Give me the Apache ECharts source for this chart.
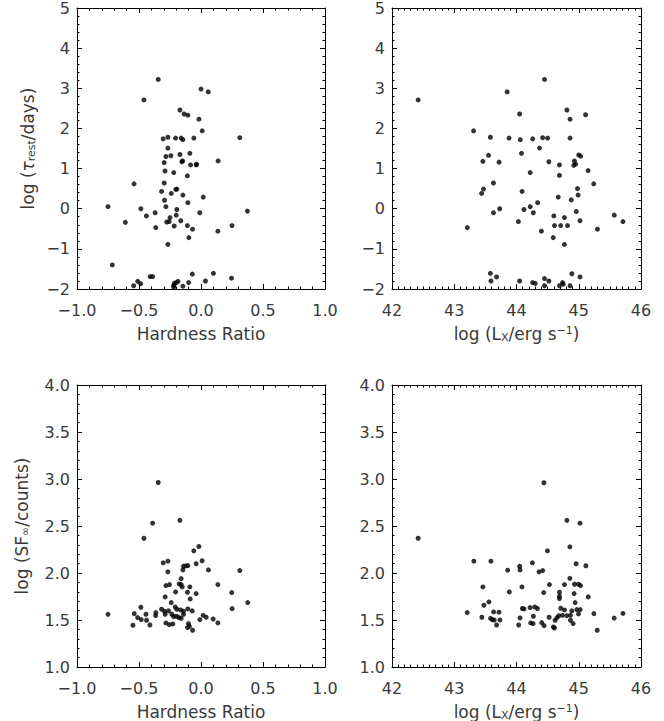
<!DOCTYPE html>
<html>
<head>
<meta charset="utf-8">
<script src="https://cdn.jsdelivr.net/npm/echarts@6/dist/echarts.min.js"></script>
<style>
html,body{margin:0;padding:0;background:#fff;}
#chart{width:664px;height:721px;}
</style>
</head>
<body>
<div id="chart"></div>
<script>
// ---- Data ----
// Panel A: log(tau_rest/days) vs Hardness Ratio
const tauHR_x = [-0.345,0.00,0.058,-0.46,-0.17,-0.136,-0.106,-0.017,0.01,-0.305,-0.267,-0.205,-0.16,-0.146,-0.058,0.313,-0.267,-0.17,-0.243,-0.283,-0.09,-0.297,-0.154,-0.148,-0.084,-0.039,-0.036,0.138,-0.29,-0.22,-0.11,-0.54,-0.297,-0.318,-0.203,-0.195,-0.24,-0.146,-0.294,-0.106,0.018,-0.283,-0.195,-0.75,-0.485,-0.37,-0.01,0.374,-0.61,-0.44,-0.256,-0.276,-0.25,-0.20,-0.163,-0.216,-0.11,-0.068,-0.365,-0.098,0.136,0.25,-0.267,-0.715,-0.41,-0.39,-0.07,0.10,0.246,-0.51,-0.487,-0.543,-0.185,-0.2,-0.215,-0.22,-0.22,-0.146,-0.1,0.036];
const tauHR_y = [3.22,2.98,2.91,2.71,2.46,2.36,2.33,2.23,1.94,1.74,1.78,1.76,1.76,1.72,1.76,1.77,1.51,1.35,1.32,1.30,1.38,1.15,1.17,1.19,1.09,1.09,1.11,1.19,0.94,0.90,0.82,0.62,0.64,0.43,0.48,0.49,0.38,0.34,0.21,0.15,0.29,0.05,-0.02,0.05,0.0,-0.10,-0.10,-0.06,-0.34,-0.18,-0.32,-0.33,-0.22,-0.16,-0.30,-0.43,-0.42,-0.51,-0.47,-0.72,-0.56,-0.42,-0.89,-1.40,-1.69,-1.69,-1.63,-1.61,-1.73,-1.81,-1.87,-1.92,-1.81,-1.84,-1.86,-1.91,-1.95,-1.93,-1.84,-1.80];

// Panel B: log(tau_rest/days) vs log(Lx)
const tauLx_x = [42.42,43.85,44.45,43.31,44.05,44.81,44.86,45.11,43.58,43.88,44.06,44.26,44.42,44.50,44.86,44.37,43.55,43.46,43.72,44.08,44.52,44.69,44.93,45.00,45.03,44.92,44.95,45.15,44.22,44.69,43.63,43.47,43.44,44.09,45.24,44.98,44.99,44.67,44.88,44.34,44.22,43.73,44.12,43.63,44.27,44.96,44.60,44.77,44.03,45.02,45.57,45.71,44.61,44.71,44.82,45.30,44.40,43.21,44.59,44.77,43.58,43.68,43.59,44.05,44.26,44.30,44.45,44.52,44.45,44.74,44.75,44.69,44.86,44.89,45.02];
const tauLx_y = [2.71,2.91,3.22,1.94,2.36,2.46,2.23,2.34,1.78,1.76,1.72,1.74,1.77,1.76,1.76,1.51,1.33,1.18,1.16,1.38,1.17,1.09,1.19,1.34,1.31,1.08,1.11,0.95,0.90,0.83,0.64,0.49,0.38,0.43,0.62,0.50,0.34,0.29,0.22,0.15,0.05,0.0,-0.02,-0.10,-0.10,-0.07,-0.18,-0.22,-0.32,-0.30,-0.16,-0.32,-0.42,-0.42,-0.42,-0.51,-0.56,-0.47,-0.72,-0.89,-1.61,-1.70,-1.80,-1.80,-1.84,-1.86,-1.74,-1.80,-1.92,-1.84,-1.88,-1.92,-1.92,-1.62,-1.70];

// Panel C: log(SF_inf/counts) vs Hardness Ratio
const sfHR_x = [-0.345,-0.39,-0.46,-0.17,-0.017,-0.058,-0.305,-0.267,-0.039,0.009,-0.141,-0.122,-0.106,-0.146,-0.267,0.060,0.313,-0.160,-0.283,-0.254,-0.176,-0.160,-0.152,-0.090,0.136,-0.205,-0.109,-0.039,0.248,-0.289,-0.087,-0.240,0.377,-0.485,-0.208,-0.195,-0.318,-0.165,-0.106,-0.071,0.251,-0.364,-0.294,-0.262,-0.141,-0.538,-0.511,-0.482,-0.439,-0.366,-0.444,-0.289,-0.235,-0.221,-0.197,-0.179,-0.160,-0.141,0.017,0.042,-0.009,0.098,0.136,-0.549,-0.412,-0.283,-0.256,-0.227,-0.101,-0.109,-0.093,-0.068,-0.75];
const sfHR_y = [2.963,2.53,2.37,2.56,2.282,2.236,2.108,2.126,2.098,2.130,2.072,2.075,2.079,2.033,2.012,2.033,2.026,1.94,1.866,1.877,1.884,1.877,1.852,1.852,1.877,1.799,1.795,1.781,1.792,1.746,1.724,1.685,1.685,1.636,1.639,1.614,1.614,1.607,1.618,1.597,1.621,1.579,1.593,1.597,1.593,1.568,1.526,1.504,1.497,1.547,1.561,1.561,1.561,1.536,1.540,1.526,1.519,1.561,1.550,1.529,1.504,1.511,1.469,1.444,1.447,1.469,1.451,1.458,1.462,1.419,1.433,1.391,1.56];

// Panel D: log(SF_inf/counts) vs log(Lx)
const sfLx_x = [42.42,44.44,44.81,45.02,44.497,44.857,43.315,43.589,44.255,44.958,45.114,44.051,44.057,43.858,44.362,44.421,44.857,43.460,44.088,43.885,44.529,44.771,44.932,44.996,45.028,44.437,44.690,44.926,44.690,44.690,45.152,44.942,43.557,43.476,44.094,44.121,44.218,44.293,44.336,44.711,44.771,44.889,44.969,45.023,44.996,43.632,43.718,43.208,45.243,43.444,43.583,43.610,43.642,43.734,44.057,44.271,44.524,44.620,44.652,44.679,44.738,44.808,44.867,44.867,43.680,44.035,44.228,44.266,44.405,44.443,44.593,44.609,44.910,45.297,45.71,45.57];
const sfLx_y = [2.37,2.96,2.56,2.53,2.236,2.278,2.126,2.126,2.108,2.098,2.077,2.072,2.033,2.030,2.012,2.026,1.943,1.852,1.852,1.799,1.877,1.877,1.88,1.88,1.866,1.792,1.795,1.781,1.753,1.728,1.746,1.685,1.692,1.657,1.622,1.618,1.632,1.639,1.622,1.625,1.607,1.597,1.611,1.611,1.565,1.586,1.583,1.579,1.568,1.529,1.518,1.504,1.500,1.500,1.522,1.540,1.529,1.497,1.525,1.546,1.550,1.546,1.550,1.497,1.447,1.447,1.469,1.462,1.472,1.440,1.426,1.415,1.462,1.391,1.57,1.52];

// Axis ranges / ticks: [min, max, interval, minor splits]
const hrRange = [-1, 1, 0.5, 5];
const lxRange = [42, 46, 1, 10];
const tauRange = [-2, 5, 1, 5];
const sfRange = [1, 4, 0.5, 5];

// Axis titles
const hrTitle = 'Hardness Ratio';
const lxTitle = 'log (L{sub|X}/erg s{sup|−1})';
const tauTitle = 'log ({gr|τ}{sub|rest}/days)';
const sfTitle = 'log (SF{sub|∞}/counts)';

// ---- Rendering ----
const FONT = '"DejaVu Sans"';
const TXT = '#3a3a3a';
const minus = s => s.replace('-', '−');
const f1 = v => minus((Math.round(v*10)/10).toFixed(1));
const f0 = v => minus(String(Math.round(v)));

const rich = {
  sub: {fontFamily: FONT, fontSize: 11, color: TXT, verticalAlign: 'bottom', lineHeight: 18, padding: [5,0,0,0]},
  sup: {fontFamily: FONT, fontSize: 11, color: TXT, verticalAlign: 'top', lineHeight: 18, padding: [0,0,5,0]},
  gr: {fontFamily: FONT, fontSize: 17, color: TXT, fontStyle: 'italic', lineHeight: 18}
};

const grids = [
  {left: 77, top: 8, width: 248, height: 281},
  {left: 392, top: 8, width: 249, height: 281},
  {left: 77, top: 385, width: 248, height: 282},
  {left: 392, top: 385, width: 249, height: 282}
];
const panels = [
  {xr: hrRange, yr: tauRange, xf: f1, yf: f0, xt: hrTitle, yt: tauTitle, ygap: 40, xs: tauHR_x, ys: tauHR_y},
  {xr: lxRange, yr: tauRange, xf: f0, yf: f0, xt: lxTitle, yt: null, xs: tauLx_x, ys: tauLx_y},
  {xr: hrRange, yr: sfRange, xf: f1, yf: f1, xt: hrTitle, yt: sfTitle, ygap: 46, xs: sfHR_x, ys: sfHR_y},
  {xr: lxRange, yr: sfRange, xf: f0, yf: f1, xt: lxTitle, yt: null, xs: sfLx_x, ys: sfLx_y}
];

const lineStyle = {color: '#000', width: 1};
function axisBase(r, pos, gi, showLabel, fmt) {
  return {
    type: 'value', gridIndex: gi, position: pos,
    min: r[0], max: r[1], interval: r[2],
    axisLine: {show: true, onZero: false, lineStyle},
    axisTick: {show: true, inside: true, length: 5, lineStyle},
    minorTick: {show: true, splitNumber: r[3], length: 2.5, lineStyle},
    splitLine: {show: false}, minorSplitLine: {show: false},
    axisLabel: {show: showLabel, formatter: fmt, fontFamily: FONT, fontSize: 16, color: TXT, lineHeight: 14,
      showMinLabel: true, showMaxLabel: true, hideOverlap: false},
  };
}

const xAxis = [], yAxis = [], series = [];
panels.forEach((p, i) => {
  const xb = axisBase(p.xr, 'bottom', i, true, p.xf);
  xb.axisLabel.margin = 14;
  xb.name = p.xt; xb.nameLocation = 'middle'; xb.nameGap = 36;
  xb.nameTextStyle = {fontFamily: FONT, fontSize: 17, color: TXT, lineHeight: 18, rich};
  xAxis.push(xb);
  xAxis.push(axisBase(p.xr, 'top', i, false, p.xf));
  const yl = axisBase(p.yr, 'left', i, true, p.yf);
  yl.axisLabel.margin = 7;
  if (p.yt) {
    yl.name = p.yt; yl.nameLocation = 'middle'; yl.nameGap = p.ygap; yl.nameRotate = 90;
    yl.nameTextStyle = {fontFamily: FONT, fontSize: 17, color: TXT, lineHeight: 18, rich};
  }
  yAxis.push(yl);
  yAxis.push(axisBase(p.yr, 'right', i, false, p.yf));
  series.push({
    type: 'scatter', xAxisIndex: 2*i, yAxisIndex: 2*i,
    data: p.xs.map((x, k) => [x, p.ys[k]]),
    symbol: 'circle', symbolSize: 5,
    itemStyle: {color: '#000'}, silent: true, clip: false
  });
});

const chart = echarts.init(document.getElementById('chart'), null, {renderer: 'svg'});
chart.setOption({
  animation: false,
  backgroundColor: '#fff',
  grid: grids.map(g => Object.assign({containLabel: false, outerBoundsMode: 'none'}, g)),
  xAxis, yAxis, series
});
</script>
</body>
</html>
